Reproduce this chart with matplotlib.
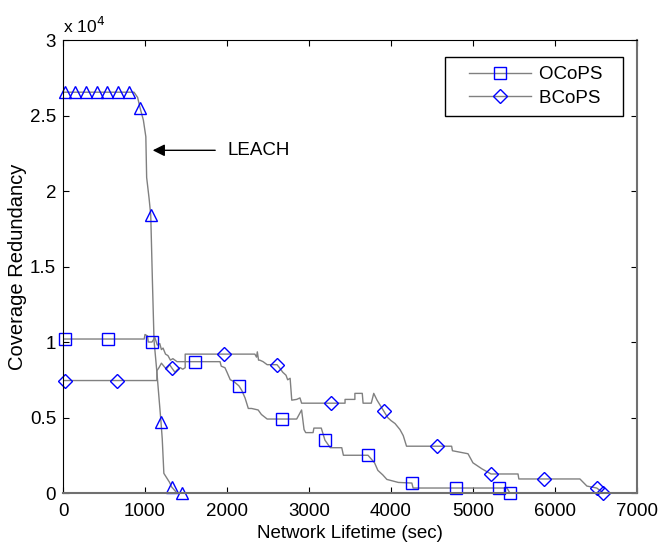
import matplotlib
matplotlib.use("Agg")
import matplotlib.pyplot as plt
from matplotlib.lines import Line2D
from matplotlib.legend_handler import HandlerLine2D

plt.rcParams['font.family'] = ['Liberation Sans', 'DejaVu Sans']

# LEACH curve (time in sec, coverage redundancy)
leach_t = [20, 866, 910, 940, 980, 1010, 1020, 1050, 1070, 1090, 1110, 1145,
           1160, 1195, 1210, 1230, 1265, 1300, 1325, 1390, 1450]
leach_v = [26550, 26550, 26200, 25500, 24700, 23600, 20900, 19500, 18400, 14100,
           10100, 8000, 7000, 4700, 3600, 1300, 1000, 700, 400, 0, 0]
leach_mt = [20, 150, 280, 410, 540, 670, 800, 940, 1070, 1195, 1325, 1450]
leach_mv = [26550, 26550, 26550, 26550, 26550, 26550, 26550, 25500, 18400, 4700, 400, 0]

# OCoPS
ocops_t = [20, 990, 1000, 1030, 1040, 1085, 1120, 1150, 1180, 1200, 1220, 1250,
           1280, 1310, 1340, 1390, 1430, 1915, 1930, 1975, 2000, 2040, 2080, 2145,
           2180, 2220, 2260, 2300, 2380, 2420, 2490, 2850, 2880, 2910, 2940, 2960,
           3050, 3060, 3150, 3195, 3260, 3400, 3420, 3720, 3800, 3840, 3900, 3950,
           4090, 4255, 4270, 5415, 5450]
ocops_v = [10200, 10200, 10500, 10400, 10000, 10000, 10300, 9800, 9900, 9500, 9600,
           9200, 9100, 8800, 8900, 8700, 8700, 8700, 8400, 8300, 8000, 7500, 7400,
           7100, 6800, 6300, 5600, 5600, 5500, 5200, 4900, 4900, 5200, 5500, 4200,
           4000, 4000, 4300, 4300, 3500, 3000, 3000, 2500, 2500, 2000, 1500, 1200,
           900, 700, 660, 330, 330, 0]
ocops_mt = [20, 550, 1085, 1610, 2145, 2670, 3195, 3720, 4255, 4790, 5320, 5450]
ocops_mv = [10200, 10200, 10000, 8700, 7100, 4900, 3500, 2500, 660, 330, 330, 0]

# BCoPS
bcops_t = [20, 1145, 1145, 1170, 1200, 1230, 1260, 1300, 1325, 1365, 1400, 1430,
           1460, 1490, 1490, 2340, 2360, 2370, 2385, 2400, 2440, 2490, 2610, 2640,
           2680, 2720, 2740, 2770, 2790, 2850, 2890, 2910, 3440, 3440, 3560, 3560,
           3650, 3660, 3760, 3790, 3830, 3870, 3915, 3960, 4000, 4050, 4110, 4150,
           4190, 4740, 4750, 4940, 5000, 5110, 5220, 5550, 5560, 6305, 6390, 6510,
           6590]
bcops_v = [7450, 7450, 8100, 8300, 8600, 8400, 8200, 8500, 8300, 8000, 8200, 8300,
           8200, 8300, 9200, 9200, 9000, 9350, 8800, 8800, 8700, 8500, 8500, 8300,
           8000, 7800, 7500, 7600, 6150, 6200, 6300, 5950, 5950, 6200, 6200, 6600,
           6600, 5950, 5950, 6600, 6150, 5800, 5400, 5000, 4800, 4600, 4200, 3800,
           3100, 3100, 2800, 2600, 2000, 1600, 1260, 1260, 930, 930, 460, 330, 0]
bcops_mt = [20, 660, 1325, 1960, 2610, 3265, 3915, 4560, 5220, 5865, 6510, 6590]
bcops_mv = [7450, 7450, 8300, 9200, 8500, 5950, 5400, 3100, 1260, 930, 330, 0]

x_ticks = [0, 1000, 2000, 3000, 4000, 5000, 6000, 7000]
y_ticks = [0, 5000, 10000, 15000, 20000, 25000, 30000]
y_labels = ['0', '0.5', '1', '1.5', '2', '2.5', '3']

GRAY = '#808080'
BLUE = '#0000ff'

fig = plt.figure(figsize=(6.6, 5.42), dpi=100)
ax = fig.add_axes([0.0955, 0.0904, 0.8695, 0.8356])

ax.plot(leach_t, leach_v, color=GRAY, lw=1)
ax.plot(ocops_t, ocops_v, color=GRAY, lw=1)
ax.plot(bcops_t, bcops_v, color=GRAY, lw=1)

mk = dict(ls='none', mfc='none', mec=BLUE, mew=1, clip_on=False)
ax.plot(leach_mt, leach_mv, marker='^', ms=8.5, **mk)
ax.plot(ocops_mt, ocops_mv, marker='s', ms=8.5, **mk)
ax.plot(bcops_mt, bcops_mv, marker='D', ms=7, **mk)

ax.set_xlim(0, 7000)
ax.set_ylim(0, 30000)
ax.set_xticks(x_ticks)
ax.set_yticks(y_ticks)
ax.set_yticklabels(y_labels)
ax.tick_params(direction='in', length=4, top=True, right=True, labelsize=13.5)
ax.tick_params(axis='x', pad=7)
ax.tick_params(axis='y', pad=5)
for s in ['left', 'top']:
    ax.spines[s].set_color('black')
for s in ['right', 'bottom']:
    ax.spines[s].set_color('#707070')
    ax.spines[s].set_linewidth(1.5)

ax.set_xlabel('Network Lifetime (sec)', fontsize=13.5, labelpad=4)
ax.set_ylabel('Coverage Redundancy', fontsize=14.5, labelpad=2)
ax.text(0, 1.008, r'x 10$^4$', transform=ax.transAxes, fontsize=12.5,
        ha='left', va='bottom')

ax.annotate('', xy=(1060, 22700), xytext=(1890, 22700),
            arrowprops=dict(arrowstyle='-|>', color='black', lw=1,
                            mutation_scale=18))
ax.text(2010, 22700, 'LEACH', fontsize=13.5, va='center', ha='left')

handles = [Line2D([], [], color=GRAY, lw=1, marker='s', ms=8.5, mfc='none', mec=BLUE),
           Line2D([], [], color=GRAY, lw=1, marker='D', ms=7, mfc='none', mec=BLUE)]
hl = HandlerLine2D(xpad=0.8)
leg = ax.legend(handles, ['OCoPS  ', 'BCoPS  '], loc='upper right',
                bbox_to_anchor=(0.9755, 0.963), fontsize=13.5, fancybox=False,
                edgecolor='black', framealpha=1, handlelength=4.1,
                borderpad=0.5, labelspacing=0.35, handletextpad=0.45,
                borderaxespad=0, handler_map={Line2D: hl})
leg.get_frame().set_linewidth(1)

fig.savefig('out.png', dpi=100)
